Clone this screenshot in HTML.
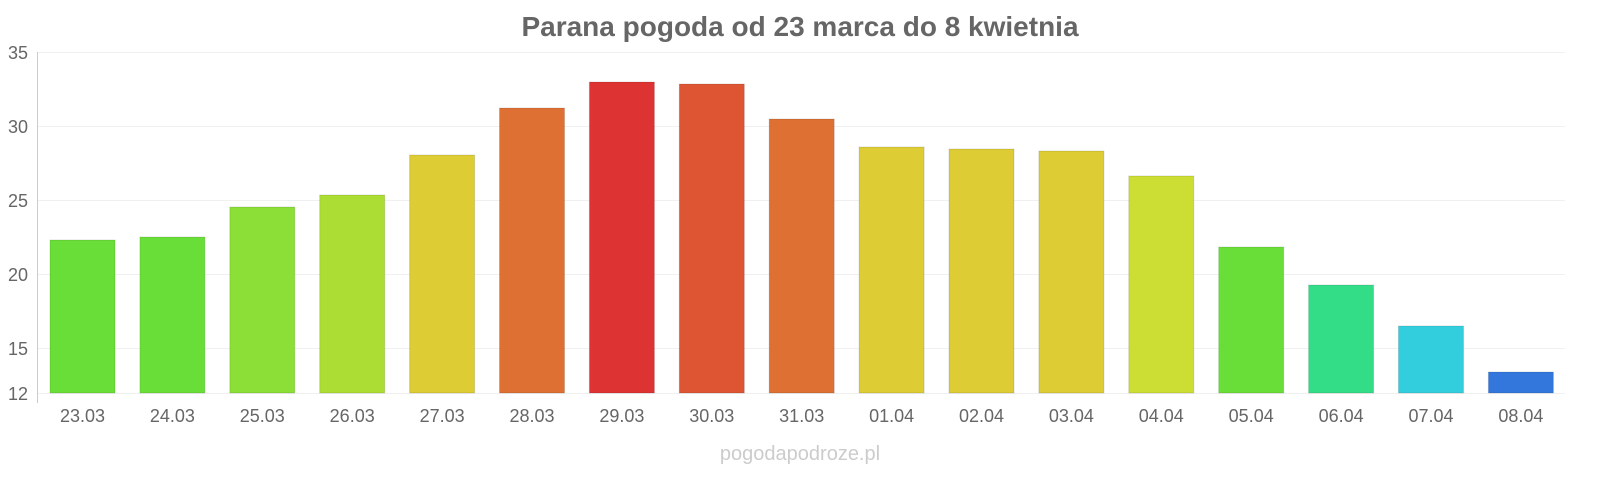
<!DOCTYPE html>
<html><head><meta charset="utf-8"><style>
html,body{margin:0;padding:0;background:#fff;}
body{width:1600px;height:480px;overflow:hidden;font-family:"Liberation Sans",sans-serif;}
</style></head><body>
<svg width="1600" height="480" xmlns="http://www.w3.org/2000/svg" font-family="Liberation Sans, sans-serif">
<text x="800" y="36" text-anchor="middle" font-size="28" font-weight="bold" fill="#666">Parana pogoda od 23 marca do 8 kwietnia</text>
<g stroke="#f0f0f0" stroke-width="1">
<line x1="38" y1="52.5" x2="1565" y2="52.5"/>
<line x1="38" y1="126.5" x2="1565" y2="126.5"/>
<line x1="38" y1="200.5" x2="1565" y2="200.5"/>
<line x1="38" y1="274.5" x2="1565" y2="274.5"/>
<line x1="38" y1="348.5" x2="1565" y2="348.5"/>
<line x1="38" y1="393.5" x2="1565" y2="393.5"/>
</g>
<line x1="37.5" y1="52" x2="37.5" y2="403" stroke="#ccc"/>
<g font-size="18" fill="#666" text-anchor="end">
<text x="28" y="59">35</text>
<text x="28" y="133">30</text>
<text x="28" y="207">25</text>
<text x="28" y="281">20</text>
<text x="28" y="355">15</text>
<text x="28" y="400">12</text>
</g>
<g id="bars"></g>
<g id="labels" font-size="18" fill="#666" text-anchor="middle"></g>
<text x="800" y="460" text-anchor="middle" font-size="20" fill="#ccc">pogodapodroze.pl</text>
</svg>
<script>
var tops=[240,237,207,195,155,108,82,84,119,147,149,151,176,247,285,326,372];
var cols=["#6ade38","#6ade38","#8bdf36","#acdd34","#ddcc33","#de7033","#dd3333","#dd5533","#de7033","#ddcc33","#ddcc33","#ddcc33","#ccdd33","#6ade38","#33dd88","#33cedd","#3377dd"];
var labs=["23.03","24.03","25.03","26.03","27.03","28.03","29.03","30.03","31.03","01.04","02.04","03.04","04.04","05.04","06.04","07.04","08.04"];
var b=document.getElementById("bars"),l=document.getElementById("labels"),ns="http://www.w3.org/2000/svg";
for(var i=0;i<17;i++){var x=50+i*89.9;
var r=document.createElementNS(ns,"rect");r.setAttribute("x",x);r.setAttribute("y",tops[i]);r.setAttribute("width",65);r.setAttribute("height",393-tops[i]);r.setAttribute("fill",cols[i]);r.setAttribute("stroke","rgba(0,0,0,0.12)");b.appendChild(r);
var t=document.createElementNS(ns,"text");t.setAttribute("x",x+32.5);t.setAttribute("y",422);t.textContent=labs[i];l.appendChild(t);}
</script>
</body></html>
